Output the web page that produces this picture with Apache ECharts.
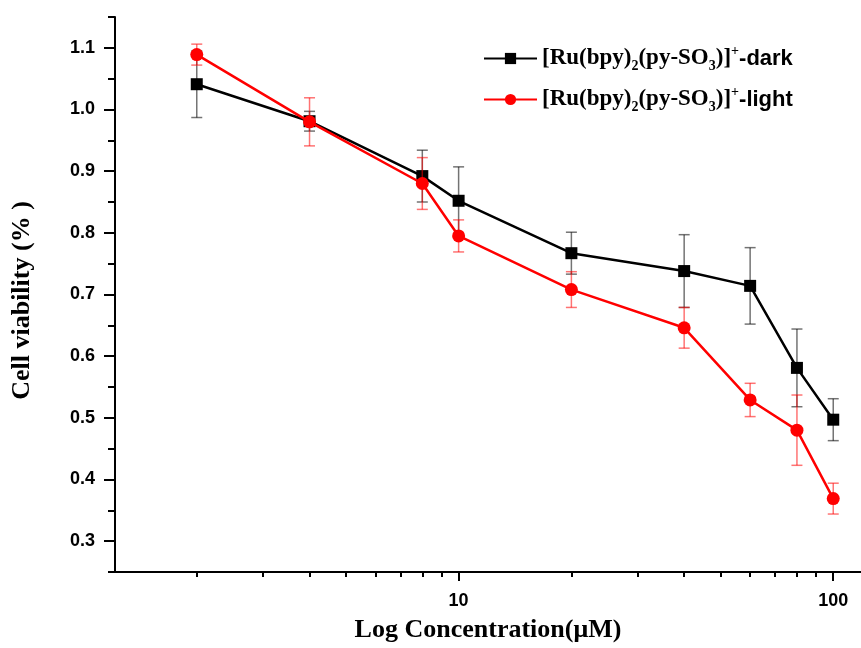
<!DOCTYPE html>
<html>
<head>
<meta charset="utf-8">
<script src="https://cdn.jsdelivr.net/npm/echarts@6/dist/echarts.min.js"></script>
<style>
  html, body { margin: 0; padding: 0; background: #fff; }
  #chart { width: 861px; height: 648px; }
</style>
</head>
<body>
<div id="chart"></div>
<script>
// Concentrations (µM) and cell viability, mean ± SD
const concentrations = [2, 4, 8, 10, 20, 40, 60, 80, 100];
const darkViability  = [1.041, 0.981, 0.892, 0.852, 0.767, 0.738, 0.714, 0.581, 0.497];
const darkError      = [0.054, 0.016, 0.042, 0.055, 0.034, 0.059, 0.062, 0.063, 0.034];
const lightViability = [1.089, 0.980, 0.880, 0.795, 0.708, 0.646, 0.529, 0.480, 0.369];
const lightError     = [0.017, 0.039, 0.042, 0.026, 0.029, 0.033, 0.027, 0.057, 0.025];

const seriesNames = ['[Ru(bpy)2(py-SO3)]+-dark', '[Ru(bpy)2(py-SO3)]+-light'];
const xMajorTicks = [10, 100];
const xMinorTicks = [2, 3, 4, 5, 6, 7, 8, 9, 20, 30, 40, 50, 60, 70, 80, 90];
const yLabelValues = [0.3, 0.4, 0.5, 0.6, 0.7, 0.8, 0.9, 1.0, 1.1];

const SERIF = '"Liberation Serif", "Times New Roman", serif';
const SANS = '"Liberation Sans", Arial, sans-serif';

function pairs(xs, ys) { return xs.map((x, i) => [x, ys[i]]); }
function errRows(xs, ys, es) { return xs.map((x, i) => [x, ys[i] - es[i], ys[i] + es[i]]); }

function errorBars(color, opacity) {
  return function (params, api) {
    const x = api.value(0);
    const lo = api.coord([x, api.value(1)]);
    const hi = api.coord([x, api.value(2)]);
    const hw = 5.5;
    const style = { stroke: color, lineWidth: 1.5, opacity: opacity };
    return {
      type: 'group',
      children: [
        { type: 'line', shape: { x1: lo[0], y1: lo[1], x2: hi[0], y2: hi[1] }, style },
        { type: 'line', shape: { x1: lo[0] - hw, y1: lo[1], x2: lo[0] + hw, y2: lo[1] }, style },
        { type: 'line', shape: { x1: hi[0] - hw, y1: hi[1], x2: hi[0] + hw, y2: hi[1] }, style }
      ]
    };
  };
}

const chart = echarts.init(document.getElementById('chart'), null, { renderer: 'canvas' });

const axisLineStyle = { color: '#000', width: 2 };

chart.setOption({
  animation: false,
  backgroundColor: '#fff',
  grid: { left: 115, right: 0, top: 17, bottom: 75 },
  legend: {
    orient: 'vertical',
    left: 478,
    top: 39,
    itemWidth: 53,
    itemHeight: 14,
    itemGap: 12,
    data: seriesNames,
    formatter: function (name) {
      const suffix = name.endsWith('dark') ? '-dark' : '-light';
      return '{f|[Ru(bpy)}{sub|2}{f|(py-SO}{sub|3}{f|)]}{sup|+}{s|' + suffix + '}';
    },
    textStyle: {
      rich: {
        f: { fontFamily: SERIF, fontWeight: 'bold', fontSize: 23, color: '#000' },
        sub: { fontFamily: SERIF, fontWeight: 'bold', fontSize: 14, color: '#000', padding: [15, 0, 0, 0] },
        sup: { fontFamily: SERIF, fontWeight: 'bold', fontSize: 14, color: '#000', padding: [0, 0, 15, 0] },
        s: { fontFamily: SANS, fontWeight: 'bold', fontSize: 22, color: '#000' }
      }
    }
  },
  xAxis: [
    {
      type: 'log',
      logBase: 10,
      min: 1.21,
      max: 118.6,
      name: 'Log Concentration(μM)',
      nameLocation: 'middle',
      nameGap: 45,
      nameTextStyle: { fontFamily: SERIF, fontWeight: 'bold', fontSize: 26, color: '#000' },
      axisLine: { show: true, lineStyle: axisLineStyle },
      axisTick: { show: true, inside: false, length: 9, lineStyle: { color: '#000', width: 2 }, customValues: xMajorTicks },
      axisLabel: { customValues: xMajorTicks, margin: 20, fontFamily: SANS, fontWeight: 'bold', fontSize: 18, color: '#000' },
      splitLine: { show: false }
    },
    {
      type: 'log',
      logBase: 10,
      min: 1.21,
      max: 118.6,
      position: 'bottom',
      axisLine: { show: false },
      axisTick: { show: true, inside: false, length: 5, lineStyle: { color: '#000', width: 2 }, customValues: xMinorTicks },
      axisLabel: { show: false },
      splitLine: { show: false }
    }
  ],
  yAxis: [
    {
      type: 'value',
      min: 0.25,
      max: 1.15,
      name: 'Cell viability (% )',
      nameLocation: 'middle',
      nameGap: 80,
      nameRotate: 90,
      nameTextStyle: { fontFamily: SERIF, fontWeight: 'bold', fontSize: 26, color: '#000', padding: [0, 12, 0, 0] },
      axisLine: { show: true, lineStyle: axisLineStyle },
      axisTick: { show: true, inside: false, length: 11, lineStyle: { color: '#000', width: 2 }, customValues: yLabelValues },
      axisLabel: {
        customValues: yLabelValues, margin: 20,
        fontFamily: SANS, fontWeight: 'bold', fontSize: 18, color: '#000',
        formatter: v => v.toFixed(1)
      },
      splitLine: { show: false }
    },
    {
      type: 'value',
      min: 0.25,
      max: 1.15,
      interval: 0.05,
      position: 'left',
      axisLine: { show: false },
      axisTick: { show: true, inside: false, length: 7, lineStyle: { color: '#000', width: 2 } },
      axisLabel: { show: false },
      splitLine: { show: false }
    }
  ],
  series: [
    {
      type: 'custom',
      name: 'dark-error',
      renderItem: errorBars('#000', 0.55),
      data: errRows(concentrations, darkViability, darkError),
      encode: { x: 0, y: [1, 2] },
      z: 2
    },
    {
      type: 'line',
      name: seriesNames[0],
      data: pairs(concentrations, darkViability),
      symbol: 'rect',
      symbolSize: 12,
      itemStyle: { color: '#000' },
      lineStyle: { color: '#000', width: 2.5 },
      z: 3
    },
    {
      type: 'custom',
      name: 'light-error',
      renderItem: errorBars('#ff0000', 0.55),
      data: errRows(concentrations, lightViability, lightError),
      encode: { x: 0, y: [1, 2] },
      z: 4
    },
    {
      type: 'line',
      name: seriesNames[1],
      data: pairs(concentrations, lightViability),
      symbol: 'circle',
      symbolSize: 13,
      itemStyle: { color: '#ff0000' },
      lineStyle: { color: '#ff0000', width: 2.5 },
      z: 5
    }
  ]
});
</script>
</body>
</html>
